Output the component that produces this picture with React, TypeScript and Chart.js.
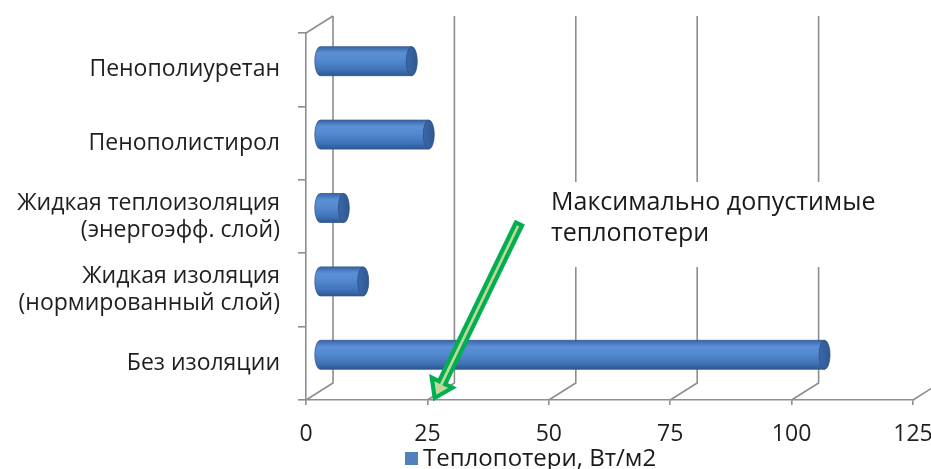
import React, { useEffect, useRef } from "react";
import { Chart, registerables } from "chart.js";

Chart.register(...registerables);

const categories: (string | string[])[] = [
  "Пенополиуретан",
  "Пенополистирол",
  ["Жидкая теплоизоляция", "(энергоэфф. слой)"],
  ["Жидкая изоляция", "(нормированный слой)"],
  "Без изоляции",
];
const heatLoss: number[] = [19, 22.5, 5, 9, 104];
const seriesName = "Теплопотери, Вт/м2";
const annotationLines: string[] = ["Максимально допустимые", "теплопотери"];
const xMin = 0;
const xMax = 125;
const xStep = 25;

const FONT = "'Open Sans', 'Noto Sans', sans-serif";
const GRID = "#8e8e8e";
const DX = 27; // depth offset x (back wall)
const DY = -17; // depth offset y

const frame3d = {
  id: "frame3d",
  beforeDatasetsDraw(chart: any) {
    const { ctx, chartArea, scales } = chart;
    const x = scales.x;
    ctx.save();
    ctx.strokeStyle = GRID;
    ctx.lineWidth = 1.6;
    ctx.beginPath();
    ctx.moveTo(chartArea.left, chartArea.top);
    ctx.lineTo(chartArea.left + DX, chartArea.top + DY);
    ctx.stroke();
    for (let v = xMin; v <= xMax; v += xStep) {
      const px = x.getPixelForValue(v);
      ctx.beginPath();
      ctx.moveTo(px, chartArea.bottom);
      ctx.lineTo(px + DX, chartArea.bottom + DY);
      ctx.lineTo(px + DX, chartArea.top + DY);
      ctx.stroke();
    }
    // annotation box covering back grid
    ctx.fillStyle = "#ffffff";
    ctx.fillRect(545, 182, 362, 85);
    ctx.restore();
  },
  afterDatasetsDraw(chart: any) {
    const { ctx } = chart;
    const meta = chart.getDatasetMeta(0);
    ctx.save();
    meta.data.forEach((el: any) => {
      const h = el.height;
      const x0 = el.base + DX / 2;
      const x1 = el.x + DX / 2;
      const yc = el.y + DY / 2;
      const top = yc - h / 2;
      const bot = yc + h / 2;
      const rx = 5.5;
      const g = ctx.createLinearGradient(0, top, 0, bot);
      g.addColorStop(0, "#3866a6");
      g.addColorStop(0.22, "#5b90d6");
      g.addColorStop(0.45, "#558ad0");
      g.addColorStop(0.8, "#4072b6");
      g.addColorStop(1, "#2c5794");
      ctx.beginPath();
      ctx.moveTo(x1, top);
      ctx.lineTo(x0, top);
      ctx.ellipse(x0, yc, rx, h / 2, 0, -Math.PI / 2, Math.PI / 2, true);
      ctx.lineTo(x1, bot);
      ctx.closePath();
      ctx.fillStyle = g;
      ctx.fill();
      ctx.strokeStyle = "#33598f";
      ctx.lineWidth = 0.8;
      ctx.stroke();
      const cg = ctx.createLinearGradient(x1 - rx, 0, x1 + rx, 0);
      cg.addColorStop(0, "#3b68a7");
      cg.addColorStop(1, "#2f5893");
      ctx.beginPath();
      ctx.ellipse(x1, yc, rx, h / 2, 0, 0, Math.PI * 2);
      ctx.fillStyle = cg;
      ctx.fill();
      ctx.strokeStyle = "#2c5188";
      ctx.stroke();
    });
    ctx.restore();
  },
  afterDraw(chart: any) {
    const { ctx, scales, chartArea } = chart;
    ctx.save();
    // annotation text
    ctx.fillStyle = "#1a1a1a";
    ctx.font = `25px ${FONT}`;
    ctx.textBaseline = "alphabetic";
    ctx.textAlign = "left";
    ctx.fillText(annotationLines[0], 551, 210);
    ctx.fillText(annotationLines[1], 551, 241);
    // arrow
    const tipX = scales.x.getPixelForValue(26.5);
    const tipY = chartArea.bottom - 2;
    const sx = 519, sy = 224;
    const len = Math.hypot(tipX - sx, tipY - sy);
    const ux = (tipX - sx) / len, uy = (tipY - sy) / len;
    const nx = -uy, ny = ux;
    const sw = 3.4, hw = 11.5, hl = 17;
    const bx = tipX - ux * hl, by = tipY - uy * hl;
    ctx.beginPath();
    ctx.moveTo(sx + nx * sw, sy + ny * sw);
    ctx.lineTo(bx + nx * sw, by + ny * sw);
    ctx.lineTo(bx + nx * hw, by + ny * hw);
    ctx.lineTo(tipX, tipY);
    ctx.lineTo(bx - nx * hw, by - ny * hw);
    ctx.lineTo(bx - nx * sw, by - ny * sw);
    ctx.lineTo(sx - nx * sw, sy - ny * sw);
    ctx.closePath();
    ctx.fillStyle = "#c4d79b";
    ctx.fill();
    ctx.strokeStyle = "#00b050";
    ctx.lineWidth = 4.2;
    ctx.lineJoin = "miter";
    ctx.stroke();
    // legend
    ctx.fillStyle = "#4f81bd";
    ctx.fillRect(405, 452, 13, 13);
    ctx.fillStyle = "#1a1a1a";
    ctx.font = `24px ${FONT}`;
    ctx.textBaseline = "middle";
    ctx.fillText(seriesName, 423, 459);
    ctx.restore();
  },
};

export default function App() {
  const ref = useRef<HTMLCanvasElement>(null);
  useEffect(() => {
    document.body.style.margin = "0";
    document.body.style.overflow = "hidden";
    const chart = new Chart(ref.current!, {
      type: "bar",
      data: {
        labels: categories as any,
        datasets: [
          {
            label: seriesName,
            data: heatLoss,
            backgroundColor: "rgba(0,0,0,0)",
            borderWidth: 0,
            barThickness: 29,
          },
        ],
      },
      options: {
        indexAxis: "y",
        animation: false,
        responsive: false,
        maintainAspectRatio: false,
        layout: { padding: { top: 33, right: 18, left: 0, bottom: 0 } },
        plugins: { legend: { display: false }, tooltip: { enabled: false } },
        scales: {
          x: {
            min: xMin,
            max: xMax,
            ticks: {
              stepSize: xStep,
              color: "#1f1f1f",
              font: { family: FONT, size: 23 },
              padding: 16,
              maxRotation: 0,
            },
            grid: {
              drawOnChartArea: false,
              drawTicks: true,
              tickLength: 5,
              color: GRID,
              lineWidth: 1.6,
            },
            border: { color: GRID, width: 1.6 },
            afterFit: (s: any) => {
              s.height = 69;
              s.paddingLeft = 0;
              s.paddingRight = 0;
            },
          },
          y: {
            offset: true,
            ticks: {
              color: "#1f1f1f",
              font: { family: FONT, size: 23, lineHeight: 1.17 },
              padding: 18,
            },
            grid: {
              offset: true,
              drawOnChartArea: false,
              drawTicks: true,
              tickLength: 8,
              color: GRID,
              lineWidth: 1.6,
            },
            border: { color: GRID, width: 1.6 },
            afterFit: (s: any) => {
              s.width = 306;
              s.paddingTop = 0;
              s.paddingBottom = 0;
            },
          },
        },
      },
      plugins: [frame3d],
    });
    return () => chart.destroy();
  }, []);
  return <canvas ref={ref} width={931} height={469} style={{ display: "block" }} />;
}
